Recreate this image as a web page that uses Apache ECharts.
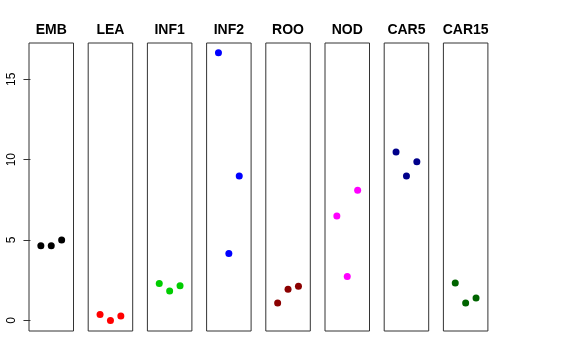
<!DOCTYPE html>
<html><head><meta charset="utf-8">
<script src="https://cdn.jsdelivr.net/npm/echarts@6/dist/echarts.min.js"></script>
<style>html,body{margin:0;padding:0;background:#fff}#c{width:576px;height:360px}</style>
</head><body><div id="c"></div>
<script>
const panels = ['EMB','LEA','INF1','INF2','ROO','NOD','CAR5','CAR15'];
const EMB = [4.65, 4.65, 5.0];
const LEA = [0.37, 0.0, 0.27];
const INF1 = [2.29, 1.83, 2.15];
const INF2 = [16.65, 4.17, 8.98];
const ROO = [1.08, 1.94, 2.13];
const NOD = [6.5, 2.73, 8.1];
const CAR5 = [10.48, 8.98, 9.87];
const CAR15 = [2.33, 1.08, 1.40];
const values = [EMB, LEA, INF1, INF2, ROO, NOD, CAR5, CAR15];
const xPos = [1, 2, 3];
const yTicks = [0, 5, 10, 15];
const colors = ['#000000','#FF0000','#00CD00','#0000FF','#8B0000','#FF00FF','#00008B','#006400'];

const grids=[], xAxes=[], yAxes=[], series=[], titles=[];
const step = 59.2, left0 = 29, w = 44.5;
panels.forEach((name,i)=>{
  const l = left0 + i*step;
  grids.push({left:l, top:43, width:w, height:288, show:true, borderColor:'#333', borderWidth:1, backgroundColor:'transparent'});
  xAxes.push({type:'value', gridIndex:i, min:-0.14, max:4.14, show:false});
  yAxes.push({type:'value', gridIndex:i, min:-0.66, max:17.26, show: i===0,
    axisLine:{show:false}, splitLine:{show:false},
    axisTick:{show:true, length:7, lineStyle:{color:'#333'}, customValues:yTicks},
    axisLabel:{show:true, rotate:90, margin:11, fontSize:12, color:'#000', fontFamily:'Liberation Sans', customValues:yTicks}
  });
  titles.push({text:name, left:l + w/2, top:23, textAlign:'center', padding:0,
    textStyle:{fontSize:14, fontWeight:'bold', color:'#000', fontFamily:'Liberation Sans'}});
  series.push({type:'scatter', xAxisIndex:i, yAxisIndex:i, symbolSize:7,
    itemStyle:{color:colors[i], opacity:1}, data: values[i].map((v,j)=>[xPos[j], v])});
});
const chart = echarts.init(document.getElementById('c'), null, {renderer:'canvas'});
chart.setOption({animation:false, title:titles, grid:grids, xAxis:xAxes, yAxis:yAxes, series:series});
</script></body></html>
